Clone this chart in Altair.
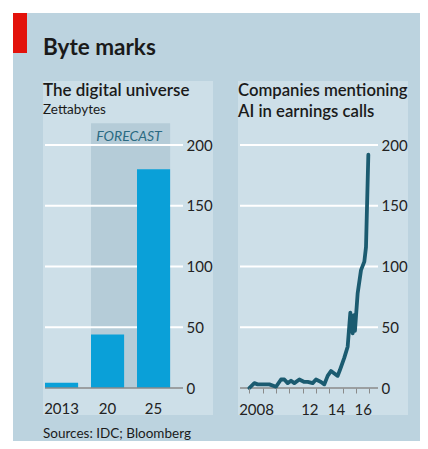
import altair as alt
import pandas as pd

# ---------------- data ----------------
dz_years = ["2013", "20", "25"]
dz_values = [4.4, 44, 180]
forecast_from = "20"
forecast_to = "25"

ai_years = [2008.0, 2008.375, 2008.625, 2009.0, 2009.5, 2010.0, 2010.375, 2010.625,
            2010.875, 2011.125, 2011.375, 2011.75, 2012.125, 2012.375, 2012.75, 2013.0,
            2013.375, 2013.625, 2013.875, 2014.125, 2014.375, 2014.625, 2014.8, 2015.125,
            2015.375, 2015.575, 2015.75, 2015.85, 2015.92, 2016.125, 2016.375, 2016.625,
            2016.75, 2016.925]
ai_counts = [0, 4, 3, 3, 3, 1, 7, 7, 4, 6, 4, 7, 5, 5, 4, 7, 5, 3, 10, 14, 12, 10, 15,
             25, 34, 62, 45, 60, 47, 78, 97, 104, 116, 192]

y_ticks = [0, 50, 100, 150, 200]
ai_tick_years = list(range(2008, 2018))
ai_labels = {2008: "2008", 2012: "12", 2014: "14", 2016: "16"}

# ---------------- style ----------------
FONT = "Lato"
TXT = "#1a1a1a"
BG_OUT = "#bcd3df"
BG_PANEL = "#cddfe8"
SHADE = "#b5ccd8"
BAR = "#0aa0d8"
LINE = "#1b5b70"
W, H = 138, 243

one = alt.Data(values=[{}])


def deco_rect(color, x, x2, y, y2):
    return alt.Chart(one).mark_rect(color=color).encode(
        x=alt.value(x), x2=alt.value(x2), y=alt.value(y), y2=alt.value(y2))


def deco_text(text, x, y, size, weight="normal", style="normal", color=TXT):
    return alt.Chart(one).mark_text(
        align="left", baseline="alphabetic", font=FONT, fontSize=size,
        fontWeight=weight, fontStyle=style, color=color
    ).encode(x=alt.value(x), y=alt.value(y), text=alt.value(text))


yscale = alt.Scale(domain=[0, 200], nice=False, zero=True)
yaxis = alt.Axis(orient="right", values=y_ticks, grid=False, ticks=False, domain=False,
                 labelPadding=3, labelFontSize=15, labelFont=FONT, labelColor="#222",
                 title=None, zindex=1)


def Y(field):
    return alt.Y(field, type="quantitative", scale=yscale, axis=yaxis)


grid_df = pd.DataFrame({"v": y_ticks[1:]})
base_df = pd.DataFrame({"v": [0]})

# ---------------- left chart ----------------
xband = alt.Scale(domain=dz_years, paddingInner=0.28, paddingOuter=0.14, align=0)
xaxis_l = alt.Axis(ticks=False, domain=False, labelPadding=13, labelFontSize=15,
                   labelFont=FONT, labelColor="#222", labelAngle=0, title=None, zindex=1)

bars_df = pd.DataFrame({"year": dz_years, "value": dz_values})
fc_df = pd.DataFrame({"f": [forecast_from], "t": [forecast_to], "lo": [0], "hi": [218]})

left = alt.layer(
    deco_rect(BG_OUT, -32, 375, -132, 296),
    deco_rect("#e3120b", -32, -18, -132, -92),
    deco_rect(BG_PANEL, -2, 168, -64, 270),
    alt.Chart(fc_df).mark_rect(color=SHADE).encode(
        x=alt.X("f:N", scale=xband, axis=xaxis_l, bandPosition=0),
        x2=alt.X2("t", bandPosition=1),
        y=Y("lo"), y2=alt.Y2("hi")),
    alt.Chart(fc_df).mark_text(align="center", baseline="alphabetic", font=FONT,
                               fontSize=14, fontStyle="italic", color="#2a6a82",
                               dx=38, dy=-4).encode(
        x=alt.X("f:N", scale=xband, axis=xaxis_l, bandPosition=0),
        y=alt.value(0), text=alt.value("FORECAST")),
    alt.Chart(grid_df).mark_rule(color="white", strokeWidth=1.8).encode(y=Y("v")),
    alt.Chart(bars_df).mark_bar(color=BAR).encode(
        x=alt.X("year:N", scale=xband, axis=xaxis_l), y=Y("value")),
    alt.Chart(base_df).mark_rule(color="#8a8a8a", strokeWidth=1.5).encode(y=Y("v")),
    deco_text("Byte marks", -2, -90, 22.5, weight="bold"),
    deco_text("The digital universe", -2, -49, 17, weight=600),
    deco_text("Zettabytes", -2, -31, 13.5),
    deco_text("Sources: IDC; Bloomberg", -2, 293, 13.5),
).properties(width=W, height=H)

# ---------------- right chart ----------------
label_expr = " : ".join(
    f"datum.value == {k} ? '{v}'" for k, v in ai_labels.items()) + " : ''"
xscale_r = alt.Scale(domain=[2007.3, 2017.65], nice=False, zero=False)
xaxis_r = alt.Axis(values=ai_tick_years, labelExpr=label_expr, labelOffset=6.7,
                   ticks=True, tickSize=5, tickColor="#8a8a8a", tickWidth=1,
                   domain=False, grid=False, labelPadding=9, labelOverlap=False,
                   labelFlush=False, labelFontSize=15, labelFont=FONT,
                   labelColor="#222", title=None, zindex=1)

ai_df = pd.DataFrame({"year": ai_years, "count": ai_counts})

right = alt.layer(
    deco_rect(BG_PANEL, -2, 168, -64, 270),
    alt.Chart(grid_df).mark_rule(color="white", strokeWidth=1.8).encode(y=Y("v")),
    alt.Chart(base_df).mark_rule(color="#8a8a8a", strokeWidth=1.5).encode(y=Y("v")),
    alt.Chart(ai_df).mark_line(color=LINE, strokeWidth=3.8, strokeJoin="round",
                               strokeCap="round").encode(
        x=alt.X("year:Q", scale=xscale_r, axis=xaxis_r), y=Y("count")),
    deco_text("Companies mentioning", -2, -49, 16.7, weight=600),
    deco_text("AI in earnings calls", -2, -28, 16.7, weight=600),
).properties(width=W, height=H)

chart = alt.HConcatChart(hconcat=[left, right], spacing=57, bounds="flush").properties(
    padding={"left": 5, "top": 5, "right": 0, "bottom": 0},
    background="white",
).configure_view(stroke=None)

chart.save("out.html", embed_options={"renderer": "svg", "actions": False})
